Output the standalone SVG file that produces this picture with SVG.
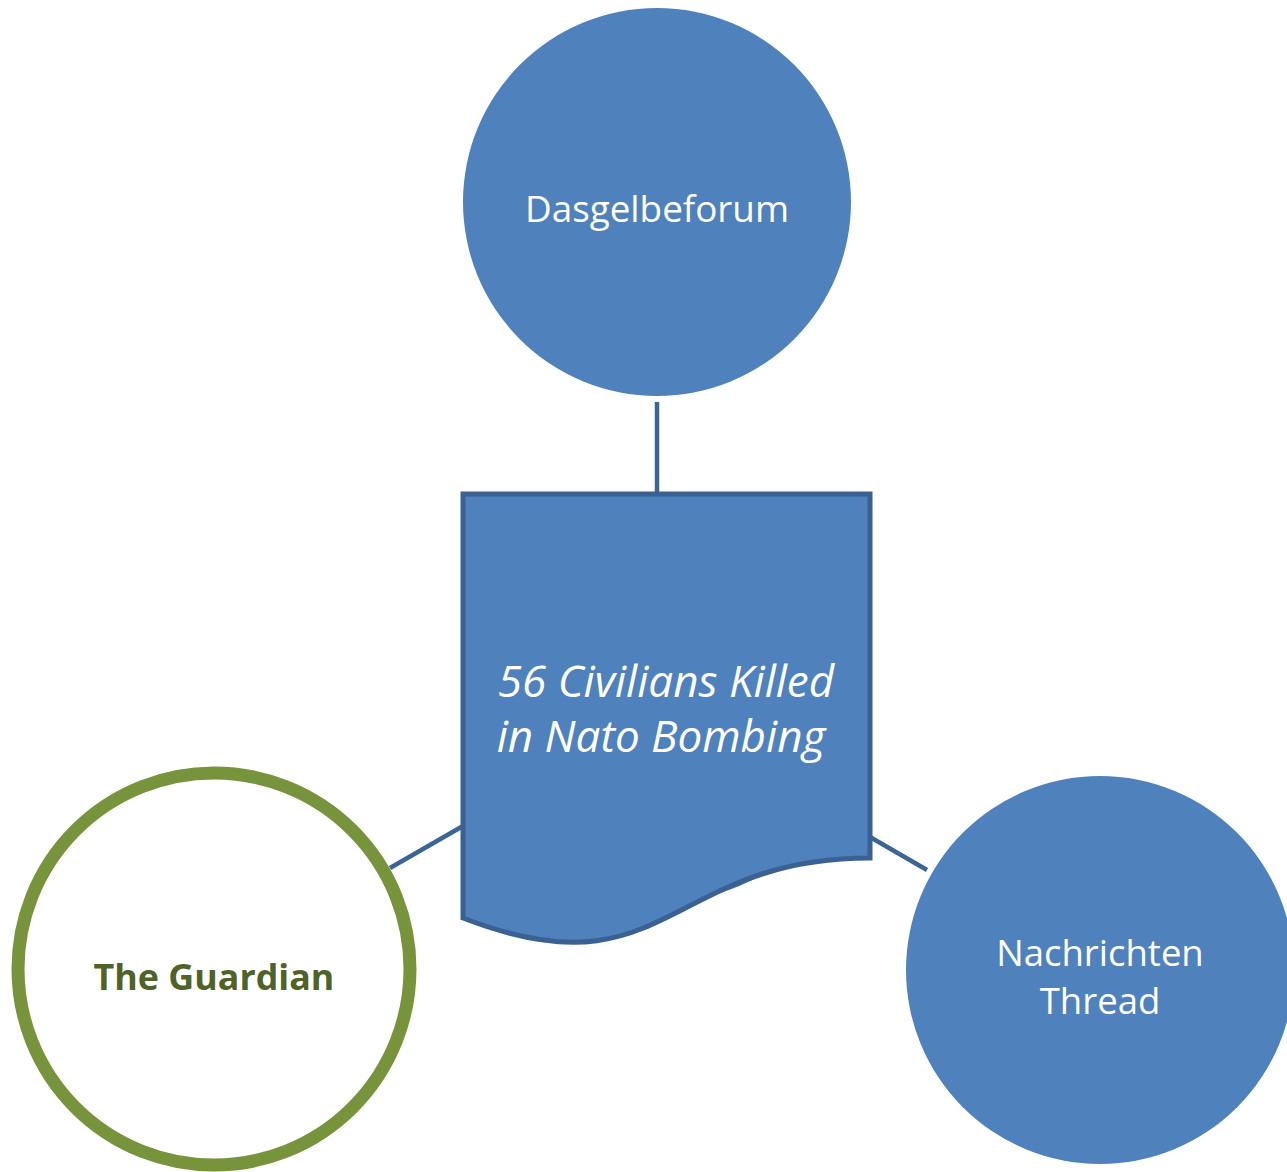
<svg xmlns="http://www.w3.org/2000/svg" width="1287" height="1172" viewBox="0 0 1287 1172">
<style>
.blue{fill:#4f81bd}
.conn{stroke:#3b6497;stroke-width:4.5;fill:none}
.lbl{font-family:"Open Sans","Noto Sans",sans-serif;fill:#ffffff;text-anchor:middle}
</style>
<rect width="1287" height="1172" fill="#ffffff"/>
<circle class="blue" cx="670" cy="720" r="180"/>
<g id="connectors">
<line class="conn" x1="657" y1="402" x2="657" y2="494"/>
<line class="conn" x1="390" y1="868" x2="463" y2="826"/>
<line class="conn" x1="870" y1="837" x2="927" y2="870"/>
</g>
<g id="dasgelbeforum">
<circle class="blue" cx="657" cy="202" r="194"/>
<text class="lbl" x="657" y="222" font-size="36.8">Dasgelbeforum</text>
</g>
<g id="article">
<path d="M463,494 H870 V858 C666.5,858 666.5,997 463,918 Z" fill="#4f81bd" stroke="#3a6192" stroke-width="5"/>
<text class="lbl" x="666" y="697" font-size="44" font-style="italic">56 Civilians Killed</text>
<text class="lbl" x="661" y="752" font-size="44" font-style="italic">in Nato Bombing</text>
</g>
<g id="guardian">
<circle cx="214" cy="969" r="196" fill="#ffffff" stroke="#77933c" stroke-width="13"/>
<text x="214" y="990" font-family="'Open Sans','Noto Sans',sans-serif" font-size="35.8" font-weight="bold" fill="#4f6228" text-anchor="middle">The Guardian</text>
</g>
<g id="nachrichten">
<circle class="blue" cx="1100" cy="970" r="194"/>
<text class="lbl" x="1100" y="966" font-size="36.5">Nachrichten</text>
<text class="lbl" x="1100" y="1014" font-size="36.5">Thread</text>
</g>
</svg>
